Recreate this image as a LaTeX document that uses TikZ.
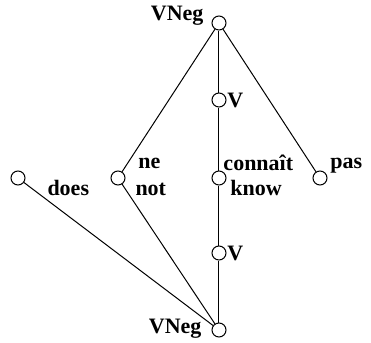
\documentclass[tikz,border=0pt]{standalone}
\usepackage{fontspec}
\setmainfont{Liberation Serif}
\usepackage{tikz}
\usetikzlibrary{positioning}

\begin{document}
\begin{tikzpicture}[x=0.5pt,y=-0.5pt,font=\fontsize{11}{13}\selectfont\bfseries,line width=0.5pt]

	\tikzset{node pt/.style={circle, draw, fill=white,
			inner sep=0pt, minimum size=7pt}}
	\tikzset{node lbl/.style={inner sep=0pt}}

	\useasboundingbox (0,0) rectangle (371,343);

	\node[node pt] (top) at (219,23) {};
	\node[node pt] (v1) at (219,100) {};
	\node[node pt] (conn) at (219,178) {};
	\node[node pt] (pas) at (320,178) {};
	\node[node pt] (ne) at (118,178) {};
	\node[node pt] (does) at (18,178) {};
	\node[node pt] (v2) at (219,253) {};
	\node[node pt] (bot) at (219,330) {};

	\node[node lbl, anchor=base east] (top lbl) at (204,20) {VNeg};
	\node[node lbl, anchor=base west] (v1 lbl) at (227,107) {V};
	\node[node lbl, anchor=base west] (conn lbl) at (223,170) {connaît};
	\node[node lbl, anchor=base west] (know lbl) at (230,195) {know};
	\node[node lbl, anchor=base west] (pas lbl) at (330,168) {pas};
	\node[node lbl, anchor=base west] (ne lbl) at (138,168) {ne};
	\node[node lbl, anchor=base west] (not lbl) at (135,195) {not};
	\node[node lbl, anchor=base west] (does lbl) at (47,195) {does};
	\node[node lbl, anchor=base west] (v2 lbl) at (227,260) {V};
	\node[node lbl, anchor=base east] (bot lbl) at (202,333) {VNeg};

	\draw
	(top) edge (v1)
	(v1) edge (conn)
	(top) edge (ne)
	(top) edge (pas)
	(does) edge (bot)
	(ne) edge (bot)
	(conn) edge (v2)
	(v2) edge (bot);
\end{tikzpicture}
\end{document}
